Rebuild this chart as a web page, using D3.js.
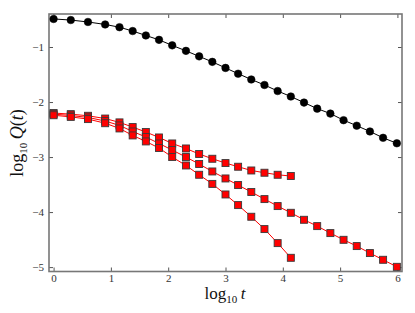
<!DOCTYPE html>
<html>
<head>
<meta charset="utf-8">
<script src="https://cdn.jsdelivr.net/npm/d3@7"></script>
<style>
  html, body { margin: 0; padding: 0; background: #fff; }
  svg { display: block; }
  text { font-family: "Liberation Serif", "DejaVu Serif", serif; }
</style>
</head>
<body>
<svg id="chart" width="415" height="313"></svg>
<script>
// log10 t positions
const tBlack = [0, 0.3, 0.6, 0.9, 1.15, 1.38, 1.61, 1.84, 2.07, 2.31, 2.54, 2.77, 3.0,
  3.22, 3.45, 3.68, 3.91, 4.14, 4.37, 4.6, 4.83, 5.06, 5.29, 5.52, 5.75, 5.99];
const qBlack = [-0.49, -0.51, -0.545, -0.59, -0.64, -0.71, -0.79, -0.87, -0.97, -1.07,
  -1.17, -1.27, -1.38, -1.485, -1.59, -1.69, -1.80, -1.90, -2.01, -2.12, -2.21, -2.33,
  -2.43, -2.535, -2.65, -2.75];

const tRedA = [0, 0.3, 0.6, 0.9, 1.15, 1.38, 1.61, 1.84, 2.07, 2.31, 2.54, 2.77, 3.0, 3.22, 3.45, 3.68, 3.91, 4.14];
const qRedA = [-2.20, -2.22, -2.25, -2.30, -2.37, -2.455, -2.545, -2.644, -2.753, -2.844,
  -2.945, -3.031, -3.109, -3.176, -3.244, -3.285, -3.322, -3.345];

const tRedB = [0, 0.3, 0.6, 0.9, 1.15, 1.38, 1.61, 1.84, 2.07, 2.31, 2.54, 2.77, 3.0, 3.22,
  3.45, 3.68, 3.91, 4.14, 4.37, 4.6, 4.83, 5.06, 5.29, 5.52, 5.75, 5.99];
const qRedB = [-2.22, -2.245, -2.28, -2.345, -2.425, -2.535, -2.636, -2.753, -2.873, -3.0,
  -3.127, -3.262, -3.389, -3.509, -3.636, -3.764, -3.891, -4.013, -4.14, -4.255, -4.382,
  -4.504, -4.618, -4.745, -4.867, -4.995];

const tRedC = [0, 0.3, 0.6, 0.9, 1.15, 1.38, 1.61, 1.84, 2.07, 2.31, 2.54, 2.77, 3.0, 3.22, 3.45, 3.68, 3.91, 4.14];
const qRedC = [-2.24, -2.27, -2.31, -2.385, -2.48, -2.607, -2.716, -2.836, -3.0, -3.153,
  -3.322, -3.488, -3.68, -3.873, -4.085, -4.309, -4.564, -4.831];

const xTicks = [0, 1, 2, 3, 4, 5, 6];
const yTicks = [-1, -2, -3, -4, -5];
const xDomain = [-0.08, 6.08];
const yDomain = [-5.08, -0.4];

const svg = d3.select("#chart");
const L = 49, R = 402, T = 14, B = 271.5;
const x = d3.scaleLinear().domain(xDomain).range([L, R]);
const y = d3.scaleLinear().domain(yDomain).range([B, T]);

const fmt = d => (d < 0 ? "\u2212" + Math.abs(d) : String(d));

// axes with inward ticks
const tickLen = 4;
svg.append("g").attr("transform", `translate(0,${B})`)
  .call(d3.axisBottom(x).tickValues(xTicks).tickSizeInner(-tickLen).tickSizeOuter(0).tickPadding(3).tickFormat(fmt));
svg.append("g").attr("transform", `translate(0,${T})`)
  .call(d3.axisTop(x).tickValues(xTicks).tickSizeInner(-tickLen).tickSizeOuter(0).tickFormat(""));
svg.append("g").attr("transform", `translate(${L},0)`)
  .call(d3.axisLeft(y).tickValues(yTicks).tickSizeInner(-tickLen).tickSizeOuter(0).tickPadding(5).tickFormat(fmt));
svg.append("g").attr("transform", `translate(${R},0)`)
  .call(d3.axisRight(y).tickValues(yTicks).tickSizeInner(-tickLen).tickSizeOuter(0).tickFormat(""));

svg.selectAll(".domain").remove();
svg.selectAll(".tick line").attr("stroke", "#555").attr("stroke-width", 1);
svg.selectAll(".tick text").attr("font-size", 11).attr("fill", "#333")
  .attr("font-family", "'Liberation Serif', 'DejaVu Serif', serif");

// frame
svg.append("rect").attr("x", L).attr("y", T).attr("width", R - L).attr("height", B - T)
  .attr("fill", "none").attr("stroke", "#777").attr("stroke-width", 1.6);

const line = d3.line().x(d => x(d[0])).y(d => y(d[1]));

function drawSeries(ts, qs, color, marker) {
  const pts = ts.map((t, i) => [t, qs[i]]);
  svg.append("path").datum(pts).attr("d", line)
    .attr("fill", "none").attr("stroke", color).attr("stroke-width", 1);
  if (marker === "circle") {
    svg.append("g").selectAll("circle").data(pts).join("circle")
      .attr("cx", d => x(d[0])).attr("cy", d => y(d[1])).attr("r", 3.8)
      .attr("fill", "#000").attr("stroke", "#000").attr("stroke-width", 0.5);
  } else {
    const s = 7;
    svg.append("g").selectAll("rect").data(pts).join("rect")
      .attr("x", d => x(d[0]) - s / 2).attr("y", d => y(d[1]) - s / 2)
      .attr("width", s).attr("height", s)
      .attr("fill", "#ff0000").attr("stroke", "#3a3a3a").attr("stroke-width", 0.9);
  }
}

drawSeries(tBlack, qBlack, "#000", "circle");
drawSeries(tRedA, qRedA, "#ff0000", "square");
drawSeries(tRedB, qRedB, "#ff0000", "square");
drawSeries(tRedC, qRedC, "#ff0000", "square");

// axis labels
const xl = svg.append("text").attr("x", 225).attr("y", 299).attr("text-anchor", "middle")
  .attr("font-size", 17).attr("fill", "#111");
xl.append("tspan").text("log");
xl.append("tspan").attr("font-size", 11).attr("dy", 4).text("10");
xl.append("tspan").attr("dy", -4).attr("font-style", "italic").text("\u2009t");

const yl = svg.append("text").attr("transform", "translate(23,143) rotate(-90)")
  .attr("text-anchor", "middle").attr("font-size", 18).attr("fill", "#111");
yl.append("tspan").text("log");
yl.append("tspan").attr("font-size", 11).attr("dy", 4).text("10");
yl.append("tspan").attr("dy", -4).attr("font-style", "italic").text("\u2009Q");
yl.append("tspan").text("(");
yl.append("tspan").attr("font-style", "italic").text("t");
yl.append("tspan").text(")");
</script>
</body>
</html>
